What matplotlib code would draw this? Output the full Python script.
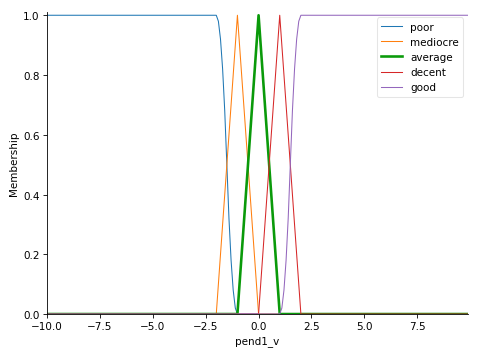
import matplotlib
matplotlib.use("Agg")
import matplotlib.pyplot as plt

# breakpoints (universe -10 .. 9.9)
poor_x = [-10.0, -2.1, -2.0, -1.9, -1.8, -1.7, -1.6, -1.5, -1.4, -1.3, -1.2, -1.1, -1.0, 9.9]
poor_y = [1.0, 1.0, 1.0, 0.98, 0.92, 0.82, 0.68, 0.5, 0.32, 0.18, 0.08, 0.02, 0.0, 0.0]

mediocre_x = [-10.0, -2.0, -1.0, 0.0, 9.9]
mediocre_y = [0.0, 0.0, 1.0, 0.0, 0.0]

average_x = [-10.0, -1.0, 0.0, 1.0, 9.9]
average_y = [0.0, 0.0, 1.0, 0.0, 0.0]

decent_x = [-10.0, 0.0, 1.0, 2.0, 9.9]
decent_y = [0.0, 0.0, 1.0, 0.0, 0.0]

good_x = [-10.0, 1.0, 1.1, 1.2, 1.3, 1.4, 1.5, 1.6, 1.7, 1.8, 1.9, 2.0, 9.9]
good_y = [0.0, 0.0, 0.02, 0.08, 0.18, 0.32, 0.5, 0.68, 0.82, 0.92, 0.98, 1.0, 1.0]

fig, ax = plt.subplots(figsize=(6.4, 4.773), dpi=75)
fig.subplots_adjust(left=0.098, right=0.975, top=0.963, bottom=0.12)

ax.plot(poor_x, poor_y, linewidth=1.0, label="poor")
ax.plot(mediocre_x, mediocre_y, linewidth=1.0, label="mediocre")
ax.plot(average_x, average_y, linewidth=2.5, color="#0a9a0a", label="average")
ax.plot(decent_x, decent_y, linewidth=1.0, color="tab:red", label="decent")
ax.plot(good_x, good_y, linewidth=1.0, color="tab:purple", label="good")

ax.set_xlim(-10, 9.9)
ax.set_ylim(0, 1.01)
ax.set_ylabel("Membership")
ax.set_xlabel("pend1_v")
ax.spines["top"].set_visible(False)
ax.spines["right"].set_visible(False)
ax.legend(framealpha=0.5)

plt.savefig("out.png", dpi=75)
